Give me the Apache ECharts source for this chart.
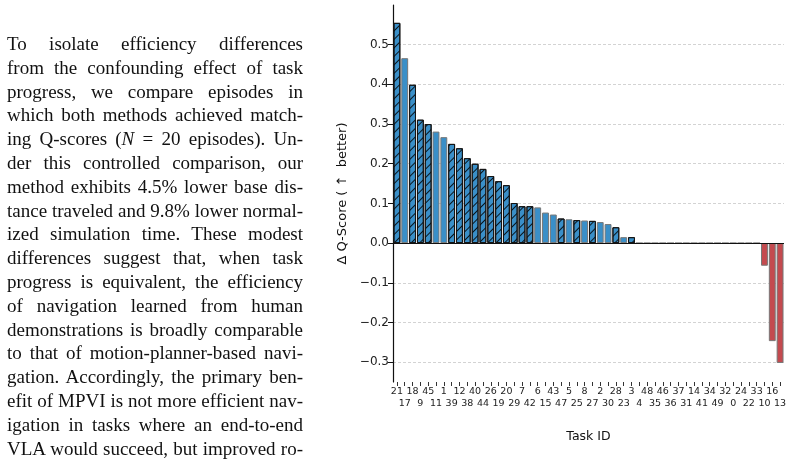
<!DOCTYPE html>
<html>
<head>
<meta charset="utf-8">
<script src="https://cdn.jsdelivr.net/npm/echarts@6/dist/echarts.min.js"></script>
<style>
  html, body { margin: 0; padding: 0; background: #fff; }
  #page { position: relative; width: 791px; height: 465px; overflow: hidden; }
  #chart { position: absolute; left: 0; top: 0; width: 791px; height: 465px; }
  #para {
    position: absolute; left: 7px; top: 32px; width: 296px;
    font-family: "Liberation Serif", "DejaVu Serif", serif;
    font-size: 19px; line-height: 23.8px; color: #111;
  }
  #para div { white-space: nowrap; text-align: justify; text-align-last: justify; }
</style>
</head>
<body>
<div id="page">
  <div id="chart"></div>
  <div id="para"></div>
</div>
<script>
// task ids in plotted order (sorted by delta)
const taskIds = [21, 17, 18, 9, 45, 11, 1, 39, 12, 38, 40, 44, 26, 19, 20, 29, 7, 42, 6, 15,
  43, 47, 5, 25, 8, 27, 2, 30, 28, 23, 3, 4, 48, 35, 46, 36, 37, 31, 14, 41,
  34, 49, 32, 0, 24, 22, 33, 10, 16, 13];
// delta Q-score per task
const deltaQ = [0.555, 0.466, 0.399, 0.311, 0.300, 0.281, 0.267, 0.250, 0.239, 0.214,
  0.200, 0.187, 0.169, 0.156, 0.146, 0.101, 0.093, 0.093, 0.090, 0.077,
  0.072, 0.062, 0.060, 0.058, 0.057, 0.056, 0.053, 0.048, 0.040, 0.015,
  0.015, 0, 0, 0, 0, 0, 0, 0, 0, 0,
  0, 0, 0, 0, 0, 0, 0, -0.057, -0.247, -0.302];
// 1 = hatched bar
const hatched = [1, 0, 1, 1, 1, 0, 0, 1, 1, 1, 1, 1, 1, 1, 1, 1, 1, 1, 0, 0,
  0, 1, 0, 1, 0, 1, 0, 0, 1, 0, 1, 0, 0, 0, 0, 0, 0, 0, 0, 0,
  0, 0, 0, 0, 0, 0, 0, 0, 0, 0];
const yTicks = [-0.3, -0.2, -0.1, 0.0, 0.1, 0.2, 0.3, 0.4, 0.5];

const paragraphLines = [
  'To isolate efficiency differences',
  'from the confounding effect of task',
  'progress, we compare episodes in',
  'which both methods achieved match-',
  'ing Q-scores (<i>N</i> = 20 episodes). Un-',
  'der this controlled comparison, our',
  'method exhibits 4.5% lower base dis-',
  'tance traveled and 9.8% lower normal-',
  'ized simulation time. These modest',
  'differences suggest that, when task',
  'progress is equivalent, the efficiency',
  'of navigation learned from human',
  'demonstrations is broadly comparable',
  'to that of motion-planner-based navi-',
  'gation. Accordingly, the primary ben-',
  'efit of MPVI is not more efficient nav-',
  'igation in tasks where an end-to-end',
  'VLA would succeed, but improved ro-'
];
document.getElementById('para').innerHTML =
  paragraphLines.map(l => '<div>' + l + '</div>').join('');

// "/" hatching
const hatchDecal = {
  symbol: 'rect',
  symbolSize: 1,
  color: 'rgba(0,0,0,0.85)',
  dashArrayX: [1, 0],
  dashArrayY: [1, 4.2],
  rotation: -Math.PI / 4
};

const barData = deltaQ.map((v, i) => {
  const neg = v < 0;
  const h = hatched[i] === 1;
  const style = {
    color: neg ? '#c44a4f' : '#3a8fc8',
    borderColor: h ? '#151515' : '#777',
    borderWidth: 1
  };
  if (h) style.decal = hatchDecal;
  return { value: v, itemStyle: style };
});

const myChart = echarts.init(document.getElementById('chart'), null, { renderer: 'canvas' });
const option = {
  animation: false,
  grid: { left: 393, right: 7, top: 5, bottom: 83, outerBoundsMode: 'none' },
  xAxis: {
    type: 'category',
    data: taskIds.map(String),
    name: 'Task ID',
    nameLocation: 'middle',
    nameGap: 48,
    nameTextStyle: { fontFamily: 'DejaVu Sans', fontSize: 12.5, color: '#111' },
    axisLine: { show: false, onZero: false },
    axisTick: { show: true, alignWithLabel: true, length: 4, lineStyle: { color: '#333', width: 1 } },
    axisLabel: {
      interval: 0,
      margin: 3,
      fontFamily: 'DejaVu Sans',
      fontSize: 9.5,
      lineHeight: 12.5,
      color: '#222',
      formatter: (v, i) => (i % 2 ? '\n' + v : v)
    },
    splitLine: { show: false }
  },
  yAxis: {
    type: 'value',
    min: -0.35,
    max: 0.6,
    name: 'Δ Q-Score ( ↑  better)',
    nameLocation: 'middle',
    nameGap: 44,
    nameTextStyle: { fontFamily: 'DejaVu Sans', fontSize: 13, color: '#111' },
    axisLine: { show: true, lineStyle: { color: '#111', width: 1.2 } },
    axisTick: { show: true, length: 5, customValues: yTicks, lineStyle: { color: '#111' } },
    axisLabel: {
      customValues: yTicks,
      margin: 4,
      fontFamily: 'DejaVu Sans',
      fontSize: 12,
      color: '#222',
      formatter: v => (v < 0 ? '\u2212' : '') + Math.abs(v).toFixed(1)
    },
    splitLine: { show: true, lineStyle: { color: '#c8c8c8', width: 0.8, type: [3, 2] } }
  },
  series: [
    {
      type: 'bar',
      data: barData,
      barCategoryGap: '12%',
      markLine: {
        silent: true,
        symbol: 'none',
        label: { show: false },
        lineStyle: { color: '#111', width: 1, type: 'solid' },
        data: [{ yAxis: 0 }]
      }
    }
  ]
};
myChart.setOption(option);
</script>
</body>
</html>
